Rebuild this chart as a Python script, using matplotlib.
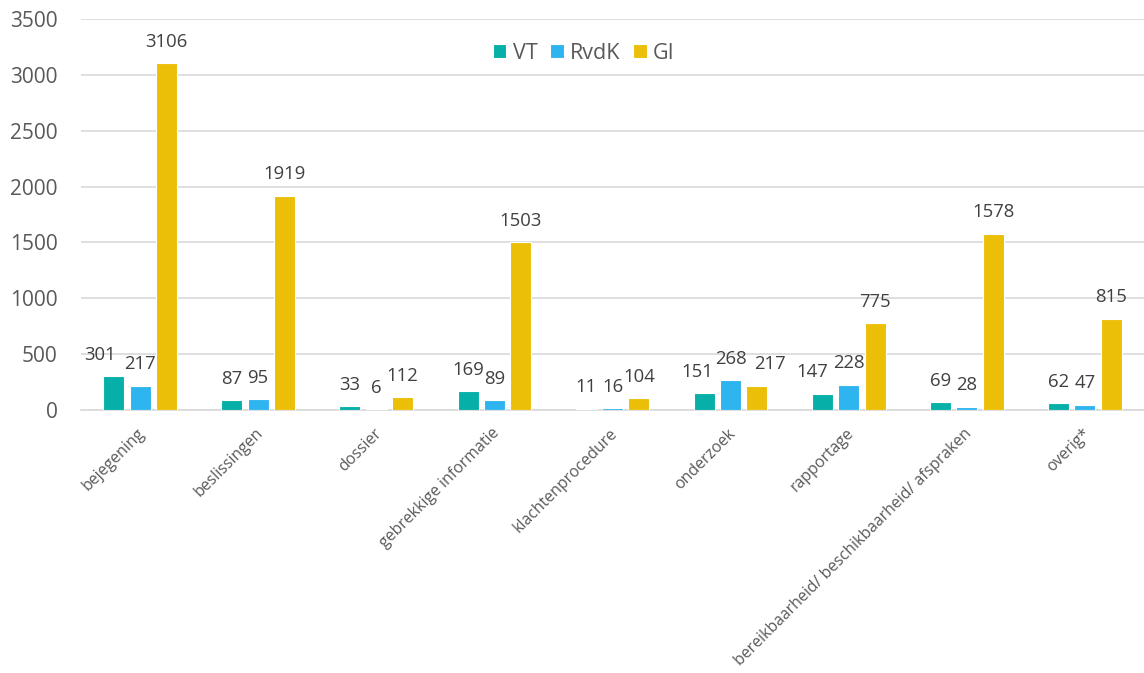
import matplotlib
matplotlib.use("Agg")
import matplotlib.pyplot as plt
import matplotlib.transforms as mtransforms
import numpy as np

categories = ["bejegening", "beslissingen", "dossier", "gebrekkige informatie",
              "klachtenprocedure", "onderzoek", "rapportage",
              "bereikbaarheid/ beschikbaarheid/ afspraken", "overig*"]
series_names = ["VT", "RvdK", "GI"]
vt = [301, 87, 33, 169, 11, 151, 147, 69, 62]
rvdk = [217, 95, 6, 89, 16, 268, 228, 28, 47]
gi = [3106, 1919, 112, 1503, 104, 217, 775, 1578, 815]
y_ticks = [0, 500, 1000, 1500, 2000, 2500, 3000, 3500]

# horizontal nudges (points) of a few data labels, as in the reference
label_nudge = {(0, 0): -10, (0, 5): -5, (2, 5): 9, (0, 6): -7}

colors = ["#06B0A9", "#2EB5F0", "#EBBF07"]
plt.rcParams['font.family'] = ['Open Sans', 'DejaVu Sans']

fig = plt.figure(figsize=(11.44, 6.73), dpi=100)
ax = fig.add_axes([81/1144, 1-410/673, 1063/1144, (410-19)/673])

x = np.arange(len(categories))
w = 0.178
step = 0.223
for i, (name, vals) in enumerate(zip(series_names, [vt, rvdk, gi])):
    pos = x + (i - 1) * step
    bars = ax.bar(pos, vals, width=w, color=colors[i], label=name,
                  edgecolor="white", linewidth=0.8, zorder=3)
    for j, (b, v) in enumerate(zip(bars, vals)):
        dx = label_nudge.get((i, j), 0)
        ax.annotate(str(v), (b.get_x() + b.get_width()/2, v),
                    xytext=(dx, 9), textcoords="offset points",
                    ha="center", va="bottom", fontsize=13.3, color="#404040")

ax.set_xlim(-0.5, len(categories) - 0.5)
ax.set_ylim(0, 3500)
ax.set_yticks(y_ticks)
ax.set_yticklabels([str(t) for t in y_ticks], fontsize=15, color="#595959")
ax.tick_params(axis="y", length=0, pad=17)
ax.tick_params(axis="x", length=0, pad=11)
ax.set_xticks(x)
ax.set_xticklabels(categories, rotation=45, ha="right", rotation_mode="anchor",
                   fontsize=11.4, color="#595959")
shift = mtransforms.ScaledTranslation(-3/100, 0, fig.dpi_scale_trans)
for lbl in ax.get_xticklabels():
    lbl.set_transform(lbl.get_transform() + shift)
ax.grid(axis="y", color="#D9D9D9", linewidth=1.2, zorder=0)
for s in ["top", "right", "left"]:
    ax.spines[s].set_visible(False)
ax.spines["bottom"].set_color("#D9D9D9")
ax.spines["bottom"].set_linewidth(1.2)

leg = ax.legend(loc="center", bbox_to_anchor=(0.473, 0.913), ncol=3,
                frameon=False, fontsize=15.5, handlelength=0.62, handleheight=0.62,
                handletextpad=0.3, columnspacing=0.6)
for t in leg.get_texts():
    t.set_color("#595959")

fig.savefig("out.png", dpi=100)
